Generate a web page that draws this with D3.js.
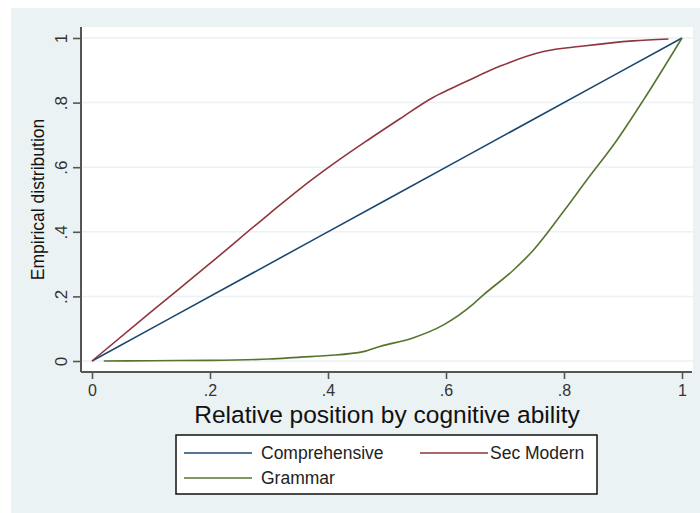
<!DOCTYPE html>
<html>
<head>
<meta charset="utf-8">
<script src="https://cdn.jsdelivr.net/npm/d3@7/dist/d3.min.js"></script>
<style>
  html, body { margin: 0; padding: 0; background: #ffffff; }
  svg { display: block; }
  text { font-family: Arial, "Liberation Sans", sans-serif; }
</style>
</head>
<body>
<svg id="chart" width="700" height="513"></svg>
<script>
// ---- data ----
const tickValues = [0, 0.2, 0.4, 0.6, 0.8, 1];
const tickLabels = ["0", ".2", ".4", ".6", ".8", "1"];
const seriesNames = ["Comprehensive", "Sec Modern", "Grammar"];

const comprehensiveX = [0, 0.25, 0.5, 0.75, 1];
const comprehensiveY = [0, 0.25, 0.5, 0.75, 1];

const secModernX = [0, 0.1, 0.2, 0.3, 0.3525, 0.409, 0.466, 0.522, 0.578, 0.607, 0.635, 0.692, 0.765, 0.833, 0.917, 0.977];
const secModernY = [0, 0.152, 0.302, 0.455, 0.533, 0.610, 0.682, 0.750, 0.816, 0.842, 0.866, 0.913, 0.958, 0.975, 0.991, 0.997];

const grammarX = [0.02, 0.1, 0.2, 0.3, 0.353, 0.4, 0.46, 0.488, 0.545, 0.595, 0.646, 0.663, 0.714, 0.748, 0.8, 0.838, 0.889, 0.934, 1];
const grammarY = [0, 0.001, 0.002, 0.006, 0.012, 0.017, 0.029, 0.045, 0.072, 0.111, 0.176, 0.204, 0.281, 0.343, 0.465, 0.559, 0.682, 0.806, 1];

const xTitle = "Relative position by cognitive ability";
const yTitle = "Empirical distribution";

// ---- layout ----
const colors = ["#1a476f", "#90353b", "#55752f"];
const bg = "#eaf2f3";
const axisColor = "#555555";
const svg = d3.select("#chart");

const plotL = 81, plotR = 693, plotT = 27, plotB = 372;
const x = d3.scaleLinear().domain([0, 1]).range([92, 682]);
const y = d3.scaleLinear().domain([0, 1]).range([361, 38]);

// outer background
svg.append("rect").attr("x", 11).attr("y", 8).attr("width", 689).attr("height", 505).attr("fill", bg);
// plot region
svg.append("rect").attr("x", plotL).attr("y", plotT).attr("width", plotR - plotL).attr("height", plotB - plotT).attr("fill", "#ffffff");

// gridlines
svg.append("g").selectAll("line").data(tickValues).join("line")
  .attr("x1", plotL).attr("x2", plotR)
  .attr("y1", d => y(d)).attr("y2", d => y(d))
  .attr("stroke", bg).attr("stroke-width", 1.5);

// series
const series = [
  comprehensiveX.map((v, i) => [v, comprehensiveY[i]]),
  secModernX.map((v, i) => [v, secModernY[i]]),
  grammarX.map((v, i) => [v, grammarY[i]])
];
const line = d3.line().x(d => x(d[0])).y(d => y(d[1])).curve(d3.curveMonotoneX);
svg.append("g").selectAll("path").data(series).join("path")
  .attr("d", line).attr("fill", "none")
  .attr("stroke", (d, i) => colors[i]).attr("stroke-width", 1.6);

// y axis
const yAxis = svg.append("g").attr("transform", `translate(${plotL},0)`)
  .call(d3.axisLeft(y).tickValues(tickValues).tickFormat((d, i) => tickLabels[i]).tickSize(8).tickSizeOuter(0));
yAxis.select(".domain").remove();
yAxis.selectAll(".tick line").attr("stroke", axisColor).attr("stroke-width", 1.6);
yAxis.selectAll(".tick text")
  .attr("transform", "rotate(-90)")
  .attr("x", 0).attr("y", -14).attr("dy", null)
  .attr("text-anchor", "middle")
  .attr("fill", "#333333")
  .style("font-size", "17px").style("font-family", "Arial, 'Liberation Sans', sans-serif");

// x axis
const xAxis = svg.append("g").attr("transform", `translate(0,${plotB})`)
  .call(d3.axisBottom(x).tickValues(tickValues).tickFormat((d, i) => tickLabels[i]).tickSize(7).tickSizeOuter(0));
xAxis.select(".domain").remove();
xAxis.selectAll(".tick line").attr("stroke", axisColor).attr("stroke-width", 1.6);
xAxis.selectAll(".tick text")
  .attr("y", 24).attr("dy", null)
  .attr("fill", "#333333")
  .style("font-size", "16px").style("font-family", "Arial, 'Liberation Sans', sans-serif");

// axis lines
svg.append("line").attr("x1", plotL).attr("x2", plotL).attr("y1", plotT).attr("y2", plotB)
  .attr("stroke", axisColor).attr("stroke-width", 2);
svg.append("line").attr("x1", plotL).attr("x2", plotR - 1).attr("y1", plotB).attr("y2", plotB)
  .attr("stroke", axisColor).attr("stroke-width", 2);

// titles
svg.append("text").attr("x", (x(0) + x(1)) / 2).attr("y", 423)
  .attr("text-anchor", "middle").attr("fill", "#111").style("font-size", "24.5px").text(xTitle);
svg.append("text").attr("transform", `translate(44,${(y(0) + y(1)) / 2}) rotate(-90)`)
  .attr("text-anchor", "middle").attr("fill", "#111").style("font-size", "17.5px").text(yTitle);

// legend
const leg = svg.append("g");
leg.append("rect").attr("x", 176).attr("y", 435).attr("width", 421).attr("height", 59)
  .attr("fill", "#ffffff").attr("stroke", "#111").attr("stroke-width", 1.5);
const legItems = [
  { name: seriesNames[0], lx: 184, ly: 453, tx: 261 },
  { name: seriesNames[1], lx: 420, ly: 453, tx: 490 },
  { name: seriesNames[2], lx: 184, ly: 478, tx: 261 }
];
legItems.forEach((it, i) => {
  leg.append("line").attr("x1", it.lx).attr("x2", it.lx + 68).attr("y1", it.ly).attr("y2", it.ly)
    .attr("stroke", colors[i]).attr("stroke-width", 1.6);
  leg.append("text").attr("x", it.tx).attr("y", it.ly + 6).attr("fill", "#222")
    .style("font-size", "17.5px").text(it.name);
});
</script>
</body>
</html>
